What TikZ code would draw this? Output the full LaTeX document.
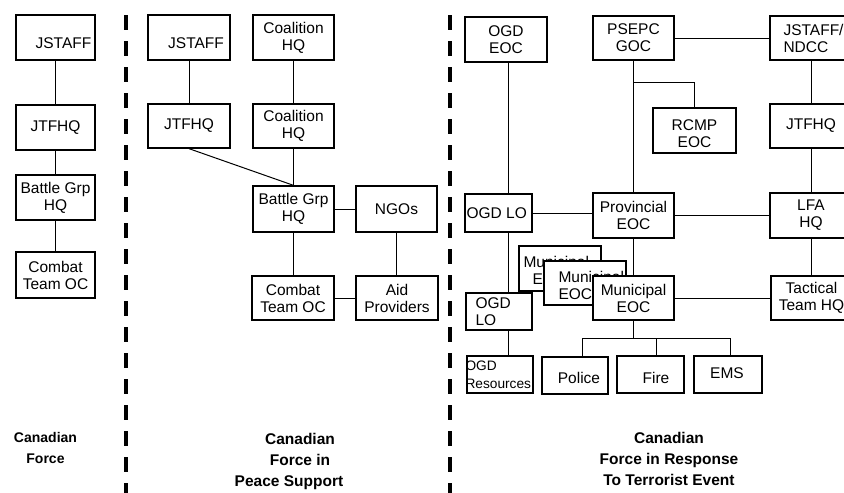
\documentclass[tikz,border=0pt]{standalone}
\usepackage{fontspec}
\setmainfont{Liberation Sans}
\begin{document}
\begin{tikzpicture}[x=1pt,y=-1pt,
  every node/.style={font=\fontsize{15.5}{17}\selectfont},
  bx/.style 2 args={draw, fill=white, line width=1.3pt, minimum width=#1, minimum height=#2, inner sep=0pt, align=center},
  lbl/.style={inner sep=0pt, align=left},
  con/.style={line width=1pt},
  sep/.style={line width=4.5pt, dash pattern=on 15pt off 11pt},
  ttl/.style={align=center, font=\bfseries\fontsize{15.5}{21}\selectfont}
]
\useasboundingbox (0,0) rectangle (844,493);
\clip (0,0) rectangle (844,493);

% separators
\draw[sep] (126,15) -- (126,500);
\draw[sep] (450,15) -- (450,500);

% ---- column 1
\node[bx={79pt}{45pt}] (c1a) at (55.5,37.5) {};
\node[lbl] (t1a) at ([xshift=8pt,yshift=-5.5pt]c1a.center) {JSTAFF};
\node[bx={79pt}{45pt}] (c1b) at (55.5,127.5) {JTFHQ};
\node[bx={79pt}{45pt}] (c1c) at (55.5,197.5) {Battle Grp\\HQ};
\node[bx={79pt}{46pt}] (c1d) at (55.5,275) {Combat\\Team OC};
\draw[con] (c1a) -- (c1b);
\draw[con] (c1b) -- (c1c);
\draw[con] (c1c) -- (c1d);

% ---- column 2
\node[bx={82pt}{45pt}] (c2a) at (189,37.5) {};
\node[lbl] (t2a) at ([xshift=7pt,yshift=-5.5pt]c2a.center) {JSTAFF};
\node[bx={81pt}{45pt}] (c2b) at (293.5,37.5) {Coalition\\HQ};
\node[bx={82pt}{44pt}] (c2c) at (189,126) {JTFHQ};
\node[bx={81pt}{44pt}] (c2d) at (293.5,126) {Coalition\\HQ};
\node[bx={81pt}{46pt}] (c2e) at (293.5,209) {Battle Grp\\HQ};
\node[bx={81pt}{46pt}] (c2f) at (396.5,209) {NGOs};
\node[bx={82pt}{44pt}] (c2g) at (293,298) {Combat\\Team OC};
\node[bx={82pt}{44pt}] (c2h) at (397,298) {Aid\\Providers};
\draw[con] (c2a) -- (c2c);
\draw[con] (c2b) -- (c2d);
\draw[con] (c2d) -- (c2e);
\draw[con] (c2c.south) -- (c2e.north);
\draw[con] (c2e) -- (c2f);
\draw[con] (c2e.south) -- (c2e.south |- c2g.north);
\draw[con] (c2f.south) -- (c2f.south |- c2h.north);
\draw[con] (c2g) -- (c2h);

% ---- column 3
\node[bx={82pt}{45pt}] (ogdeoc) at (506,39.5) {OGD\\EOC};
\node[bx={81pt}{44pt}] (psepc) at (633.5,38) {PSEPC\\GOC};
\node[bx={82pt}{44pt}] (jsndcc) at (811,38) {};
\node[lbl, anchor=west] (tjs) at ([xshift=14pt]jsndcc.west) {JSTAFF/\\NDCC};
\node[bx={83pt}{45pt}] (rcmp) at (694.5,130.5) {};
\node[lbl, align=center] (trc) at ([yshift=-3pt]rcmp.center) {RCMP\\EOC};
\node[bx={82pt}{44pt}] (jtfhq3) at (811,126) {JTFHQ};
\node[bx={67pt}{38pt}] (ogdlo) at (498.5,213) {};
\node[lbl, anchor=west] (tol) at ([xshift=2pt]ogdlo.west) {OGD LO};
\node[bx={81pt}{45pt}] (prov) at (633.5,215.5) {Provincial\\EOC};
\node[bx={82pt}{45pt}] (lfa) at (811,215.5) {LFA\\HQ};
\node[bx={82pt}{45pt}] (mun1) at (560,268.5) {};
\node[lbl, anchor=west] (tm1) at ([xshift=5pt,yshift=-2pt]mun1.west) {Municipal\\\hspace*{9pt}EOC};
\node[bx={82pt}{44pt}] (mun2) at (585,283) {};
\node[lbl, anchor=west] (tm2) at ([xshift=15pt,yshift=-2pt]mun2.west) {Municipal\\EOC};
\node[bx={81pt}{44pt}] (mun3) at (633.5,298) {Municipal\\EOC};
\node[bx={81pt}{44pt}] (tact) at (811.5,298) {Tactical\\Team HQ};
\node[bx={66pt}{37pt}] (ogdlo2) at (499,311.5) {};
\node[lbl, anchor=west] (to2) at ([xshift=10pt]ogdlo2.west) {OGD\\LO};
\node[bx={66pt}{37pt}] (ogdres) at (500,374.5) {};
\node[lbl, anchor=west, font=\fontsize{13.7}{18}\selectfont] (tor) at ([xshift=-1pt]ogdres.west) {OGD\\Resources};
\node[bx={66pt}{37pt}] (police) at (575,375.5) {};
\node[lbl] (tpo) at ([xshift=4pt,yshift=-2.5pt]police.center) {Police};
\node[bx={67pt}{37pt}] (fire) at (650.5,374.5) {};
\node[lbl] (tfi) at ([xshift=5.5pt,yshift=-3.5pt]fire.center) {Fire};
\node[bx={68pt}{37pt}] (ems) at (728,374.5) {};
\node[lbl] (tem) at ([xshift=-1pt,yshift=1.5pt]ems.center) {EMS};

\coordinate (ox) at (508,0);
\coordinate (br) at (0,82);
\coordinate (bus) at (0,338);
\coordinate (px) at (582,0);
\coordinate (fx) at (656,0);
\coordinate (ex) at (730,0);
\draw[con] (ogdeoc.south -| ox) -- (ogdlo.north -| ox);
\draw[con] (ogdlo.south -| ox) -- (ogdlo2.north -| ox);
\draw[con] (ogdlo2.south -| ox) -- (ogdres.north -| ox);
\draw[con] (psepc) -- (jsndcc);
\draw[con] (psepc) -- (prov);
\draw[con] (psepc.south |- br) -| (rcmp.north);
\draw[con] (jsndcc) -- (jtfhq3);
\draw[con] (jtfhq3) -- (lfa);
\draw[con] (lfa.south) -- (lfa.south |- tact.north);
\draw[con] (ogdlo.east) -- (ogdlo.east -| prov.west);
\draw[con] (prov) -- (lfa);
\draw[con] (prov) -- (mun3);
\draw[con] (mun3) -- (tact);
\draw[con] (mun3.south) -- (mun3.south |- bus);
\draw[con] (px |- police.north) -- (px |- bus) -- (ex |- bus) -- (ex |- ems.north);
\draw[con] (fx |- bus) -- (fx |- fire.north);

% ---- titles
\node[ttl, font=\bfseries\fontsize{14}{21}\selectfont] (lab1) at (45.5,447.5) {Canadian\\Force};
\node[ttl] (lab2) at (300,461) {Canadian\\Force in\\Peace Support\hspace*{22pt}};
\node[ttl] (lab3) at (669,459) {Canadian\\Force in Response\\To Terrorist Event};
\end{tikzpicture}
\end{document}
